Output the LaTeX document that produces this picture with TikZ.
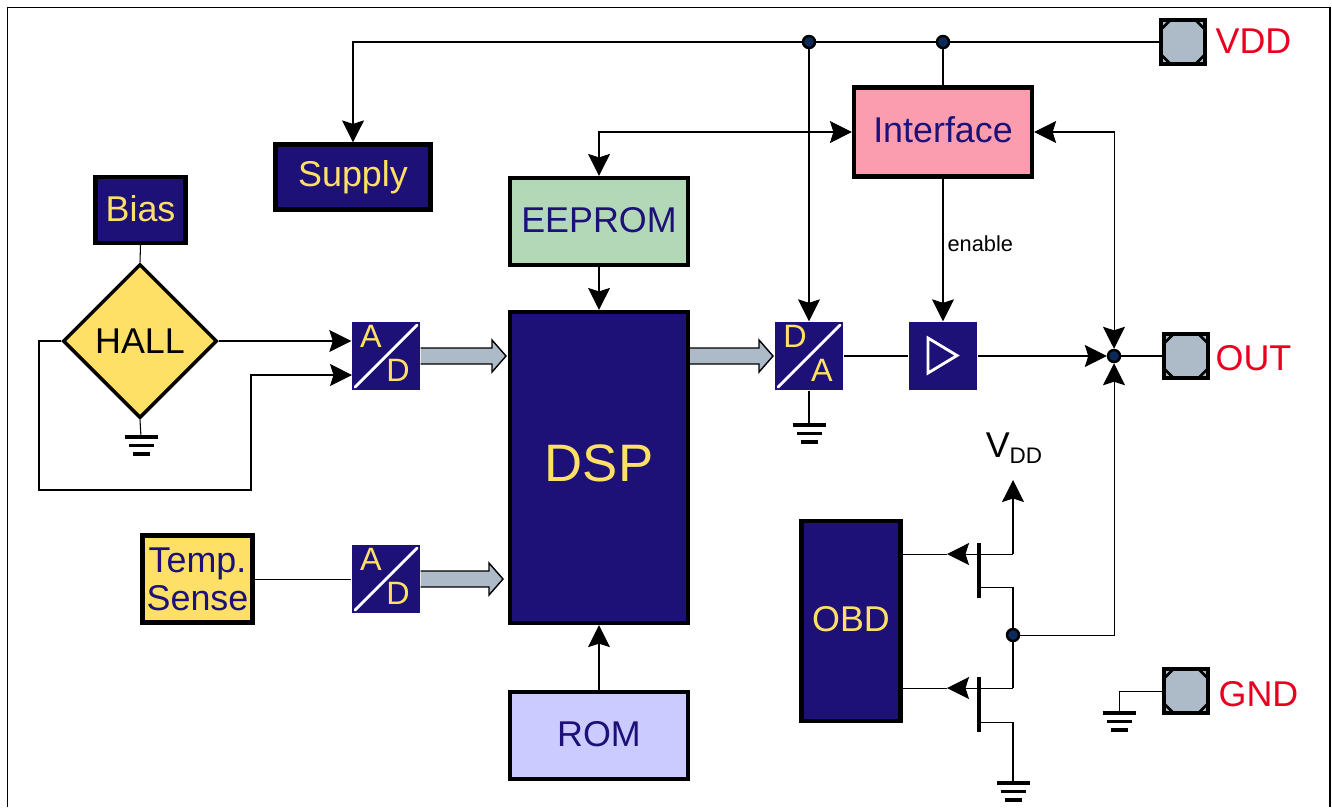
\documentclass[tikz,border=0pt]{standalone}
\usepackage{fontspec}
\setmainfont{Liberation Sans}
\usetikzlibrary{calc}
\usetikzlibrary{arrows.meta}
\usetikzlibrary{shapes.geometric}

\definecolor{chipnavy}{HTML}{1D1178}
\definecolor{chipyellow}{HTML}{FFE066}
\definecolor{ifacepink}{HTML}{FB9DAF}
\definecolor{eepromgreen}{HTML}{B2D8B8}
\definecolor{romblue}{HTML}{CBCBFF}
\definecolor{padgrey}{HTML}{ADBAC7}
\definecolor{padred}{HTML}{E8001E}
\definecolor{dotblue}{HTML}{0B2A5A}

\newcommand{\blockfont}{\fontsize{10.2}{10.8}\selectfont}
\newcommand{\dspfont}{\fontsize{15}{16}\selectfont}
\newcommand{\convfont}{\fontsize{9.2}{10}\selectfont}
\newcommand{\enablefont}{\fontsize{6.2}{7}\selectfont}
\newcommand{\subfont}{\fontsize{6.4}{7}\selectfont}

\tikzset{
  >={Stealth[length=0.22cm,width=0.22cm,inset=0.035cm]},
  sig/.style={line width=0.3pt, black},
  block/.style={rectangle, draw=black, line width=1.2pt, inner sep=0pt, font=\blockfont},
  navyblock/.style={block, fill=chipnavy, text=chipyellow},
  lightblock/.style={block, text=chipnavy, text depth=0.04cm},
  convbox/.style={rectangle, fill=chipnavy, inner sep=0pt, minimum size=0.68cm,
    path picture={\draw[white, line width=0.8pt, line cap=round]
      ([shift={(0.03,0.03)}]path picture bounding box.south west) --
      ([shift={(-0.03,-0.03)}]path picture bounding box.north east);}},
  convtext/.style={text=chipyellow, font=\convfont, inner sep=0pt},
  padbox/.style={rectangle, draw=black, line width=1.05pt, fill=padgrey, inner sep=0pt, minimum size=0.445cm,
    path picture={\draw[black, line width=0.75pt]
      ([xshift=0.1cm]path picture bounding box.north west) -- ([yshift=-0.1cm]path picture bounding box.north west)
      ([xshift=-0.1cm]path picture bounding box.north east) -- ([yshift=-0.1cm]path picture bounding box.north east)
      ([xshift=0.1cm]path picture bounding box.south west) -- ([yshift=0.1cm]path picture bounding box.south west)
      ([xshift=-0.1cm]path picture bounding box.south east) -- ([yshift=0.1cm]path picture bounding box.south east);}},
  padtext/.style={text=padred, font=\blockfont, inner sep=0pt},
  junction/.style={circle, draw=black, line width=0.7pt, fill=dotblue, inner sep=0pt, minimum size=0.12cm},
  busarrow/.style={draw=black, fill=padgrey, line width=0.4pt,
    to path={let \p1=(\tikztostart), \p2=(\tikztotarget) in
      (\x1,\y1+0.08cm) -- (\x2-0.14cm,\y1+0.08cm) -- (\x2-0.14cm,\y1+0.16cm) -- (\x2,\y1) --
      (\x2-0.14cm,\y1-0.16cm) -- (\x2-0.14cm,\y1-0.08cm) -- (\x1,\y1-0.08cm)}},
  gndsym/.pic={
    \draw[line width=0.95pt] (-0.165,0) -- (0.165,0);
    \draw[line width=0.95pt] (-0.125,-0.085) -- (0.125,-0.085);
    \draw[line width=0.95pt] (-0.085,-0.17) -- (0.085,-0.17);
  }
}

\begin{document}
\begin{tikzpicture}
    \useasboundingbox (0,0) rectangle (13.32,-8.07);
    \draw [line width=0.55pt] (0.075,-8.07) -- (0.075,-0.075) -- (13.30,-0.075) -- (13.30,-8.07);

    \node (supply) at (3.53,-1.77) [navyblock, minimum width=1.55cm, minimum height=0.65cm] {Supply};
    \node (bias) at (1.405,-2.10) [navyblock, text depth=0.04cm, minimum width=0.90cm, minimum height=0.66cm] {Bias};
    \node (hall) at (1.40,-3.41) [diamond, draw=black, line width=1pt, fill=chipyellow, inner sep=0pt, minimum width=1.54cm, minimum height=1.54cm, font=\blockfont] {HALL};
    \node (temp) at (1.975,-5.79) [navyblock, text=chipnavy, fill=chipyellow, align=center, minimum width=1.10cm, minimum height=0.87cm] {Temp.\\Sense};

    \node (eeprom) at (5.99,-2.215) [lightblock, fill=eepromgreen, minimum width=1.78cm, minimum height=0.87cm] {EEPROM};
    \node (dsp) at (5.99,-4.675) [navyblock, text depth=0.08cm, font=\dspfont, minimum width=1.78cm, minimum height=3.11cm] {DSP};
    \node (rom) at (5.99,-7.355) [lightblock, fill=romblue, minimum width=1.78cm, minimum height=0.87cm] {ROM};
    \node (iface) at (9.43,-1.32) [lightblock, fill=ifacepink, minimum width=1.78cm, minimum height=0.89cm] {Interface};
    \node (obd) at (8.51,-6.21) [navyblock, text depth=0.05cm, minimum width=0.99cm, minimum height=2.00cm] {OBD};

    \node (ad1) at (3.86,-3.56) [convbox] {};
    \node (ad1a) at (3.71,-3.36) [convtext] {A};
    \node (ad1d) at (3.98,-3.70) [convtext] {D};
    \node (ad2) at (3.86,-5.79) [convbox] {};
    \node (ad2a) at (3.71,-5.59) [convtext] {A};
    \node (ad2d) at (3.98,-5.93) [convtext] {D};
    \node (da) at (8.09,-3.56) [convbox] {};
    \node (dad) at (7.95,-3.36) [convtext] {D};
    \node (daa) at (8.22,-3.70) [convtext] {A};
    \node (amp) at (9.43,-3.56) [rectangle, fill=chipnavy, inner sep=0pt, minimum size=0.68cm] {};
    \draw [white, line width=0.8pt] (9.28,-3.38) -- (9.57,-3.555) -- (9.28,-3.73) -- cycle;

    \node (vddpad) at (11.83,-0.42) [padbox] {};
    \node (vddtext) at (12.535,-0.41) [padtext] {VDD};
    \node (outpad) at (11.86,-3.56) [padbox] {};
    \node (outtext) at (12.535,-3.58) [padtext] {OUT};
    \node (gndpad) at (11.86,-6.91) [padbox] {};
    \node (gndtext) at (12.585,-6.94) [padtext] {GND};

    \node (dota) at (8.09,-0.42) [junction] {};
    \node (dotb) at (9.43,-0.42) [junction] {};
    \node (dotc) at (11.14,-3.56) [junction] {};
    \node (dotd) at (10.13,-6.35) [junction] {};

    \coordinate (gnda) at (1.41,-4.37);
    \coordinate (gndb) at (8.09,-4.25);
    \coordinate (gndc) at (10.13,-7.83);
    \coordinate (gndd) at (11.19,-7.13);
    \pic at (gnda) {gndsym};
    \pic at (gndb) {gndsym};
    \pic at (gndc) {gndsym};
    \pic at (gndd) {gndsym};

    % supply rail
    \draw [sig] (vddpad.west) -- (dotb);
    \draw [sig] (dotb) -- (dota);
    \draw [sig, ->] (dota) -| (supply.north);
    \draw [sig, ->] (dota) -- (da.north);
    \draw [sig] (dotb) -- (iface.north);

    \draw [sig, <->] (iface.west) -| (eeprom.north);
    \draw [sig, ->] (eeprom.south) -- (dsp.north);
    \draw [sig, ->] (rom.north) -- (dsp.south);
    \draw [sig, ->] (iface.south) -- (amp.north) node [pos=0.455, right, inner sep=0pt, xshift=0.04cm, font=\enablefont] (enable) {enable};
    \draw [sig, <->] (iface.east) -| (dotc);

    \draw [sig] (bias.south) -- (hall.north);
    \draw [sig] (hall.south) -- (gnda);
    \draw [sig, ->] (hall.east) -- (hall.east -| ad1.west);
    \coordinate (adin) at (3.52,-3.75);
    \draw [sig, ->] (hall.west) -- (0.39,-3.41) -- (0.39,-4.90) -- (2.51,-4.90) -- (2.51,-3.75) -- (adin);
    \draw [sig] (temp.east) -- (ad2.west);

    \coordinate (busa) at (5.06,-3.56);
    \coordinate (busb) at (5.03,-5.79);
    \coordinate (busc) at (7.73,-3.56);
    \path [busarrow] (ad1.east) to (busa);
    \path [busarrow] (ad2.east) to (busb);
    \path [busarrow] (dsp.east |- da.west) to (busc);

    \draw [sig] (da.south) -- (gndb);
    \draw [sig] (da.east) -- (amp.west);
    \draw [sig, ->] (amp.east) -- (dotc);
    \draw [sig] (dotc) -- (outpad.west);
    \draw [sig, ->] (dotd) -| (dotc);
    \draw [sig] (gndpad.west) -| (gndd);

    % output transistors
    \node (vddsup) at (10.14,-4.48) [inner sep=0pt, font=\blockfont] {V\raisebox{-1.7pt}{\subfont DD}};
    \coordinate (gatea) at (10.13,-5.54);
    \coordinate (tipa) at (9.47,-5.54);
    \coordinate (vddtip) at (10.13,-4.80);
    \coordinate (gateb) at (10.13,-6.88);
    \coordinate (tipb) at (9.47,-6.88);
    \coordinate (fetatop) at (9.79,-5.43);
    \coordinate (fetabot) at (9.79,-5.98);
    \coordinate (fetbtop) at (9.79,-6.77);
    \coordinate (fetbbot) at (9.79,-7.32);

    \draw [sig] (obd.east |- gatea) -- (tipa);
    \draw [sig, ->] (gatea) -- (tipa);
    \draw [sig, ->] (gatea) -- (vddtip);
    \draw [line width=0.95pt] (fetatop) -- (fetabot);
    \draw [sig] (9.79,-5.875) -- (10.13,-5.875) -- (dotd);

    \draw [sig] (obd.east |- gateb) -- (tipb);
    \draw [sig, ->] (gateb) -- (tipb);
    \draw [sig] (dotd) -- (gateb);
    \draw [line width=0.95pt] (fetbtop) -- (fetbbot);
    \draw [sig] (9.79,-7.22) -- (10.13,-7.22) -- (gndc);
\end{tikzpicture}
\end{document}
